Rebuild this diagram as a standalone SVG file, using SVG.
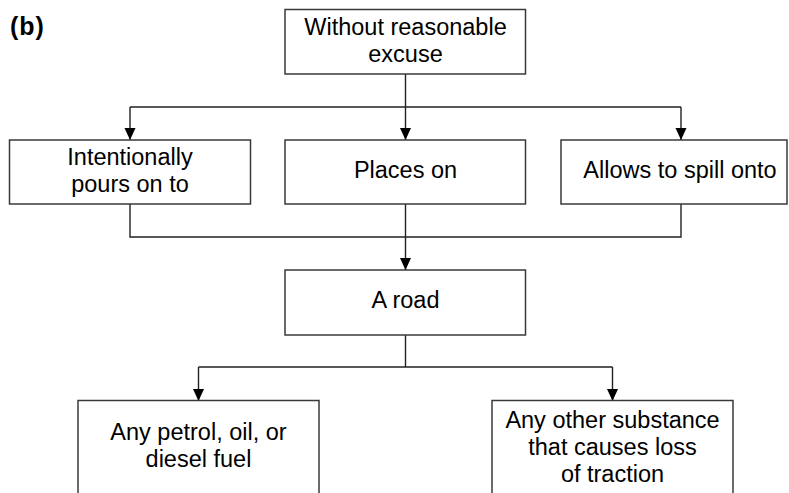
<svg xmlns="http://www.w3.org/2000/svg" width="789" height="493" viewBox="0 0 789 493">
<style>
.box{fill:#fff;stroke:#3a3a3a;stroke-width:1.5}
.t{font-family:"Liberation Sans",Arial,sans-serif;font-size:23.5px;fill:#000;text-anchor:middle}
.c{fill:none;stroke:#222;stroke-width:1.4}
</style>
<defs>
<marker id="ah" markerUnits="userSpaceOnUse" markerWidth="14" markerHeight="14" refX="12" refY="7" orient="auto">
<path d="M0,1.5 L12,7 L0,12.5 Z" fill="#000"/>
</marker>
</defs>
<rect width="789" height="493" fill="#fff"/>
<text x="10" y="35" font-family="'Liberation Sans',Arial,sans-serif" font-size="25" font-weight="bold" letter-spacing="1">(b)</text>
<g id="connectors">
<path class="c" d="M405.5,74 V107 M130,107 H681" />
<path class="c" d="M130,107 V140" marker-end="url(#ah)"/>
<path class="c" d="M405.5,107 V140" marker-end="url(#ah)"/>
<path class="c" d="M681,107 V140" marker-end="url(#ah)"/>
<path class="c" d="M130,204 V237 H681 V204"/>
<path class="c" d="M405.5,204 V270" marker-end="url(#ah)"/>
<path class="c" d="M405.5,335 V367 M198.5,367 H612.5"/>
<path class="c" d="M198.5,367 V401" marker-end="url(#ah)"/>
<path class="c" d="M612.5,367 V401" marker-end="url(#ah)"/>
</g>
<g id="n-excuse">
<rect class="box" x="285" y="9.5" width="240.5" height="64.5"/>
<text class="t" x="405.5" y="35">Without reasonable</text>
<text class="t" x="405.5" y="62">excuse</text>
</g>
<g id="n-pours">
<rect class="box" x="9.5" y="140" width="241" height="64"/>
<text class="t" x="130" y="165">Intentionally</text>
<text class="t" x="130" y="192">pours on to</text>
</g>
<g id="n-places">
<rect class="box" x="285" y="140" width="240.5" height="64"/>
<text class="t" x="405.5" y="178">Places on</text>
</g>
<g id="n-spill">
<rect class="box" x="561" y="140" width="226" height="64"/>
<text class="t" x="680" y="178">Allows to spill onto</text>
</g>
<g id="n-road">
<rect class="box" x="285" y="270" width="240.5" height="65"/>
<text class="t" x="405.5" y="308">A road</text>
</g>
<g id="n-petrol">
<rect class="box" x="78" y="400.5" width="241" height="100"/>
<text class="t" x="198.5" y="440">Any petrol, oil, or</text>
<text class="t" x="198.5" y="467">diesel fuel</text>
</g>
<g id="n-other">
<rect class="box" x="492" y="400.5" width="241" height="100"/>
<text class="t" x="612.5" y="428">Any other substance</text>
<text class="t" x="612.5" y="455">that causes loss</text>
<text class="t" x="612.5" y="482">of traction</text>
</g>
</svg>
